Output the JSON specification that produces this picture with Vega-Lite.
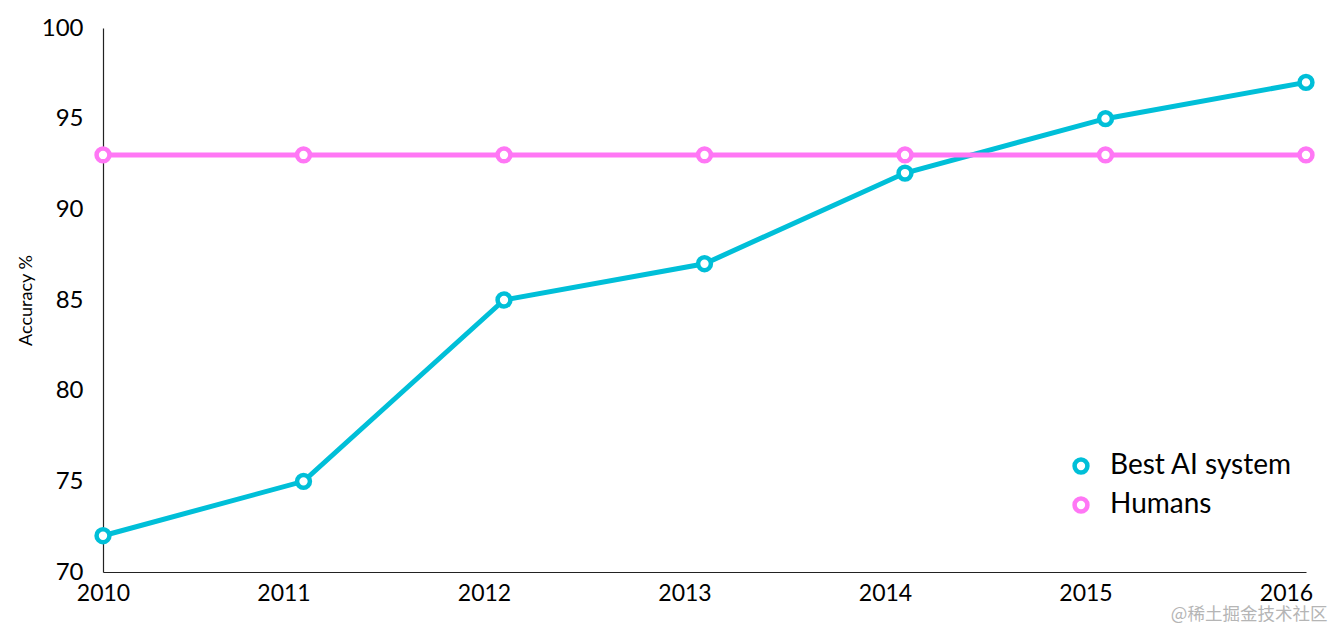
{
  "$schema": "https://vega.github.io/schema/vega-lite/v6.json",
  "width": 1203,
  "height": 544,
  "autosize": {"type": "none"},
  "padding": {"left": 103, "top": 28, "right": 30, "bottom": 58},
  "background": "white",
  "config": {"view": {"stroke": null}},
  "title": {
    "text": "@稀土掘金技术社区",
    "orient": "bottom",
    "anchor": "end",
    "font": "Noto Sans CJK SC",
    "fontSize": 17.5,
    "fontWeight": "normal",
    "color": "#b5b5b5",
    "dx": 6,
    "offset": 1
  },
  "data": {
    "values": [
      {"year": 2010, "accuracy": 72, "series": "Best AI system"},
      {"year": 2011, "accuracy": 75, "series": "Best AI system"},
      {"year": 2012, "accuracy": 85, "series": "Best AI system"},
      {"year": 2013, "accuracy": 87, "series": "Best AI system"},
      {"year": 2014, "accuracy": 92, "series": "Best AI system"},
      {"year": 2015, "accuracy": 95, "series": "Best AI system"},
      {"year": 2016, "accuracy": 97, "series": "Best AI system"},
      {"year": 2010, "accuracy": 93, "series": "Humans"},
      {"year": 2011, "accuracy": 93, "series": "Humans"},
      {"year": 2012, "accuracy": 93, "series": "Humans"},
      {"year": 2013, "accuracy": 93, "series": "Humans"},
      {"year": 2014, "accuracy": 93, "series": "Humans"},
      {"year": 2015, "accuracy": 93, "series": "Humans"},
      {"year": 2016, "accuracy": 93, "series": "Humans"}
    ]
  },
  "mark": {
    "type": "line",
    "strokeWidth": 5,
    "point": {"filled": false, "fill": "white", "size": 165, "strokeWidth": 4.5, "opacity": 1}
  },
  "encoding": {
    "x": {
      "field": "year",
      "type": "quantitative",
      "scale": {"domain": [2010, 2016], "nice": false, "zero": false},
      "axis": {
        "title": null,
        "values": [2010, 2011, 2012, 2013, 2014, 2015, 2016],
        "format": "d",
        "ticks": false,
        "grid": false,
        "domainColor": "#222222",
        "domainWidth": 1.2,
        "labelFont": "Lato",
        "labelFontSize": 23,
        "labelColor": "black",
        "labelPadding": 10,
        "labelFlush": false,
        "labelOffset": {"condition": {"test": "datum.value == 2010", "value": 0}, "value": -20}
      }
    },
    "y": {
      "field": "accuracy",
      "type": "quantitative",
      "scale": {"domain": [70, 100], "nice": false, "zero": false},
      "axis": {
        "title": "Accuracy %",
        "titleFont": "Lato",
        "titleFontSize": 18,
        "titleFontWeight": "normal",
        "titleColor": "black",
        "titlePadding": 6,
        "values": [70, 75, 80, 85, 90, 95, 100],
        "ticks": false,
        "grid": false,
        "domainColor": "#222222",
        "domainWidth": 1.2,
        "labelFont": "Lato",
        "labelFontSize": 24,
        "labelColor": "black",
        "labelPadding": 20
      }
    },
    "color": {
      "field": "series",
      "type": "nominal",
      "scale": {"domain": ["Best AI system", "Humans"], "range": ["#00BFD8", "#FF77F5"]},
      "legend": {
        "title": null,
        "orient": "none",
        "legendX": 964,
        "legendY": 424,
        "symbolType": "circle",
        "symbolSize": 165,
        "symbolStrokeWidth": 4.5,
        "symbolFillColor": "white",
        "labelFont": "Lato",
        "labelFontSize": 28,
        "labelLimit": 400,
        "labelColor": "black",
        "labelOffset": 15,
        "rowPadding": 7
      }
    }
  }
}
